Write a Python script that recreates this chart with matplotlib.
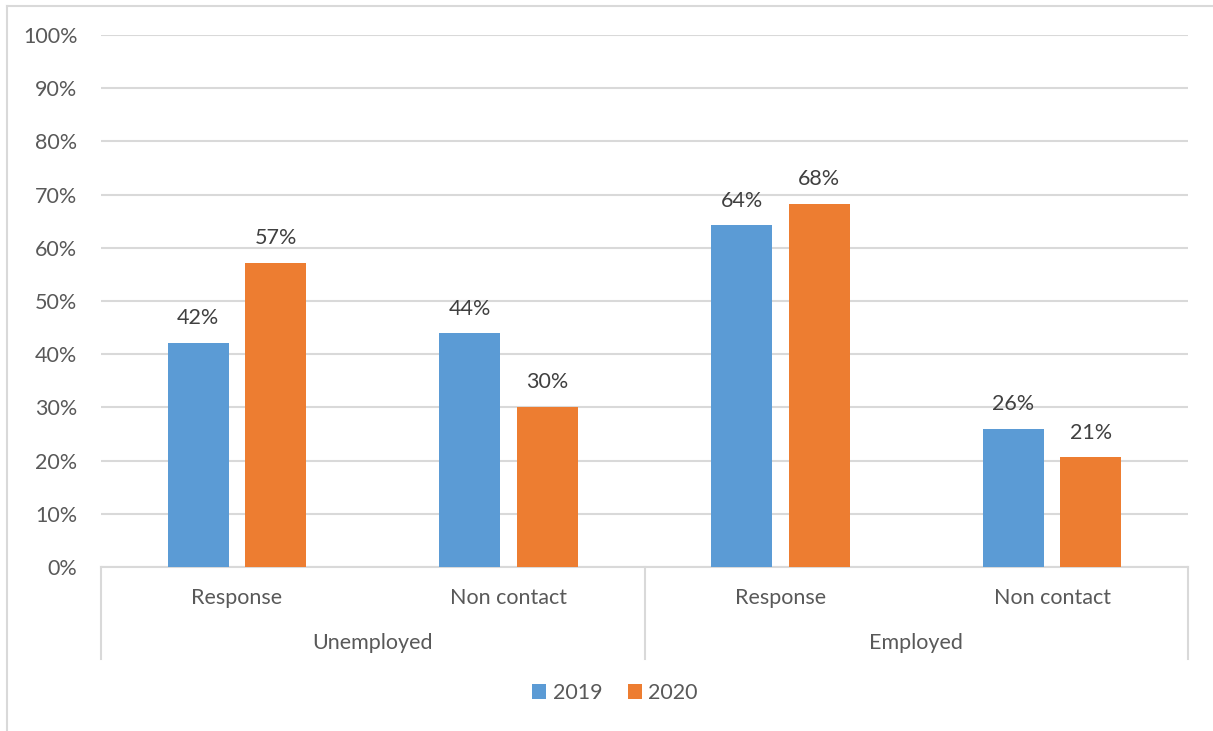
import matplotlib
matplotlib.use('Agg')
import matplotlib.pyplot as plt
import numpy as np
from matplotlib.lines import Line2D

plt.rcParams['font.family'] = ['Lato', 'DejaVu Sans']

# data
groups = ['Unemployed', 'Employed']
categories = ['Response', 'Non contact', 'Response', 'Non contact']
years = ['2019', '2020']
vals_2019 = [0.421, 0.439, 0.642, 0.259]
vals_2020 = [0.572, 0.301, 0.682, 0.206]
yticks = np.arange(0, 1.01, 0.1)

c2019 = '#5B9BD5'
c2020 = '#ED7D31'
txt = '#595959'
grid = '#D9D9D9'
fs = 15.5

W, H = 1213, 731
fig = plt.figure(figsize=(W / 100, H / 100), dpi=100)

# outer chart frame (only top and left edges visible)
fig.add_artist(Line2D([7 / W, 7 / W], [0, 1 - 6 / H], color=grid, lw=1.5))
fig.add_artist(Line2D([7 / W, 1], [1 - 6 / H, 1 - 6 / H], color=grid, lw=1.5))

ax = fig.add_axes([101 / W, (H - 567) / H, 1087 / W, 532 / H])
x = np.arange(len(categories))
bw = 0.224
off = 0.1426
b1 = ax.bar(x - off, vals_2019, bw, color=c2019, label=years[0], zorder=3)
b2 = ax.bar(x + off, vals_2020, bw, color=c2020, label=years[1], zorder=3)

for bars in (b1, b2):
    for r in bars:
        v = r.get_height()
        ax.text(r.get_x() + r.get_width() / 2, v + 0.028, f'{v * 100:.0f}%',
                ha='center', va='bottom', fontsize=fs, color='#404040')

ax.set_xlim(-0.5, 3.5)
ax.set_ylim(0, 1)
ax.set_yticks(yticks)
ax.set_yticklabels([f'{t * 100:.0f}%' for t in yticks], fontsize=fs, color=txt)
ax.tick_params(axis='y', length=0, pad=17)
ax.tick_params(axis='x', length=0, labelbottom=False)
ax.grid(axis='y', color=grid, lw=1.5, zorder=0)
for s in ['top', 'right', 'left']:
    ax.spines[s].set_visible(False)
ax.spines['bottom'].set_color(grid)
ax.spines['bottom'].set_linewidth(1.5)

# two level category axis
tr = ax.get_xaxis_transform()
depth = -(659 - 567) / 532
for xv in (-0.5, 1.5, 3.5):
    ax.add_line(Line2D([xv, xv], [0, depth], transform=tr, color=grid, lw=1.5, clip_on=False))
for i, c in enumerate(categories):
    ax.text(i, -(598 - 567) / 532, c, transform=tr, ha='center', va='center',
            fontsize=fs, color=txt)
for j, g in enumerate(groups):
    ax.text(0.5 + 2 * j, -(643 - 567) / 532, g, transform=tr, ha='center', va='center',
            fontsize=fs, color=txt)

fig.legend(handles=[b1, b2], labels=years, loc='center', bbox_to_anchor=(615 / W, 1 - 693 / H),
           ncol=2, frameon=False, fontsize=fs, handlelength=0.65, handleheight=0.65,
           handletextpad=0.3, columnspacing=1.2, labelcolor=txt)

fig.savefig('out.png', dpi=100)
